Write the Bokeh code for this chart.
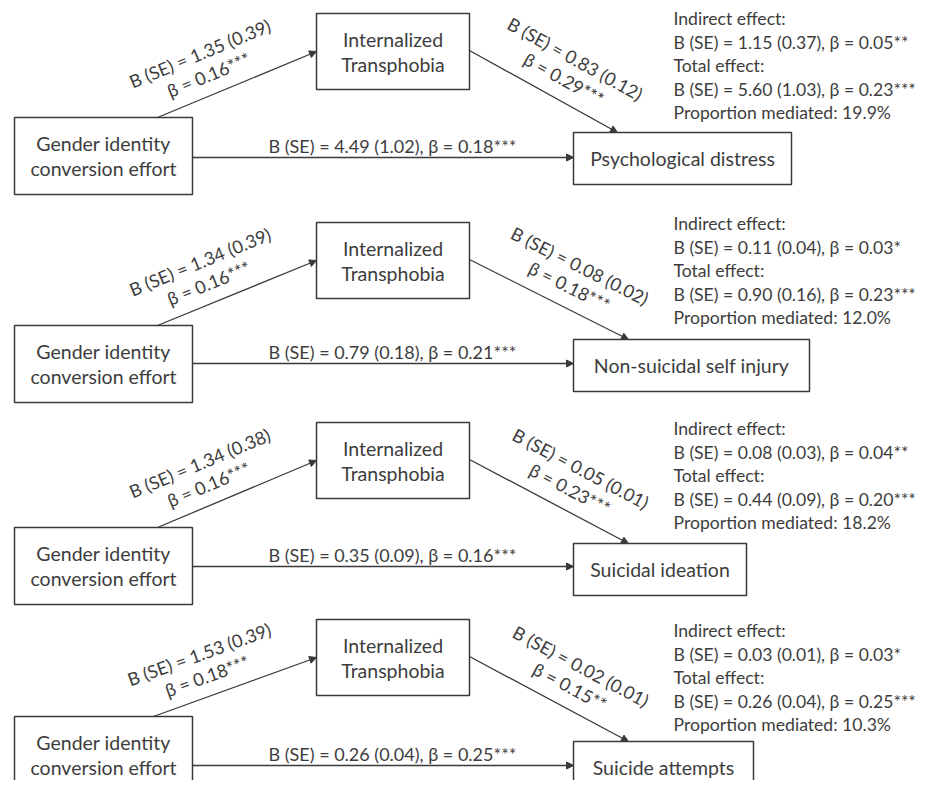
import math
from bokeh.plotting import figure
from bokeh.models import Range1d, ColumnDataSource, Arrow, NormalHead
from bokeh.core.properties import value
from bokeh.embed import file_html
from bokeh.resources import INLINE

# ---------------- data ----------------
predictor = ["Gender identity", "conversion effort"]
mediator = ["Internalized", "Transphobia"]
outcomes = ["Psychological distress", "Non-suicidal self injury",
            "Suicidal ideation", "Suicide attempts"]

a_B = [1.35, 1.34, 1.34, 1.53]
a_SE = [0.39, 0.39, 0.38, 0.39]
a_beta = [0.16, 0.16, 0.16, 0.18]
a_sig = ["***", "***", "***", "***"]

b_B = [0.83, 0.08, 0.05, 0.02]
b_SE = [0.12, 0.02, 0.01, 0.01]
b_beta = [0.29, 0.18, 0.23, 0.15]
b_sig = ["***", "***", "***", "**"]

c_B = [4.49, 0.79, 0.35, 0.26]
c_SE = [1.02, 0.18, 0.09, 0.04]
c_beta = [0.18, 0.21, 0.16, 0.25]
c_sig = ["***", "***", "***", "***"]

ind_B = [1.15, 0.11, 0.08, 0.03]
ind_SE = [0.37, 0.04, 0.03, 0.01]
ind_beta = [0.05, 0.03, 0.04, 0.03]
ind_sig = ["**", "*", "**", "*"]

tot_B = [5.60, 0.90, 0.44, 0.26]
tot_SE = [1.03, 0.16, 0.09, 0.04]
tot_beta = [0.23, 0.23, 0.20, 0.25]
tot_sig = ["***", "***", "***", "***"]

prop_mediated = [19.9, 12.0, 18.2, 10.3]

# ---------------- layout (pixel positions) ----------------
left_top = [117, 325, 527, 716]
med_top = [13, 222, 422, 619]
out_top = [132, 339, 543, 741]
out_right = [791, 809, 746, 753]
direct_y = [157, 363, 566, 765]
info_y = [18, 223, 428, 630]
b_end_x = [617, 628, 628, 628]
a_start_x = [157, 157, 157, 153]

LX0, LX1, LH = 14, 192, 77
MX0, MX1, MH = 316, 469, 76
OX0, OH = 573, 52
INFO_X = 673
LINE_SP = 23.5

FONT = "Lato"
FS_BOX = "19.5px"
FS = "18px"
FS_INFO = "17.6px"
TXT = "#3d3d3d"
LINE = "#3a3a3a"

W, H = 918, 780
p = figure(width=W, height=H, x_range=Range1d(0, W), y_range=Range1d(H, 0),
           output_backend="svg", toolbar_location=None,
           x_axis_type=None, y_axis_type=None, min_border=0)
p.grid.visible = False
p.outline_line_color = None
p.background_fill_color = "white"
p.border_fill_color = "white"

def fmt(B, SE):
    return f"B (SE) = {B:.2f} ({SE:.2f})"

# boxes
qd = dict(left=[], right=[], top=[], bottom=[])
for i in range(4):
    for (x0, x1, t, h) in [(LX0, LX1, left_top[i], LH), (MX0, MX1, med_top[i], MH),
                           (OX0, out_right[i], out_top[i], OH)]:
        qd["left"].append(x0); qd["right"].append(x1)
        qd["top"].append(t); qd["bottom"].append(t + h)
p.quad(source=ColumnDataSource(qd), left="left", right="right", top="top", bottom="bottom",
       fill_color="white", line_color=LINE, line_width=1.5)

# arrows
ad = dict(x0=[], y0=[], x1=[], y1=[])
for i in range(4):
    segs = [
        (a_start_x[i], left_top[i], MX0, med_top[i] + 38),
        (MX1, med_top[i] + 37, b_end_x[i], out_top[i]),
        (LX1, direct_y[i], OX0, direct_y[i]),
    ]
    for s in segs:
        ad["x0"].append(s[0]); ad["y0"].append(s[1]); ad["x1"].append(s[2]); ad["y1"].append(s[3])
p.add_layout(Arrow(end=NormalHead(size=7, fill_color=LINE, line_color=LINE, line_width=1),
                   x_start="x0", y_start="y0", x_end="x1", y_end="y1",
                   source=ColumnDataSource(ad), line_color=LINE, line_width=1.3))

# texts
box_td = dict(x=[], y=[], t=[])
td = dict(x=[], y=[], t=[], ang=[], align=[])
info_td = dict(x=[], y=[], t=[])
def add(x, y, t, ang=0.0, align="center"):
    td["x"].append(x); td["y"].append(y); td["t"].append(t); td["ang"].append(ang); td["align"].append(align)
def addbox(x, y, t):
    box_td["x"].append(x); box_td["y"].append(y); box_td["t"].append(t)

for i in range(4):
    cy = left_top[i] + LH / 2
    addbox((LX0 + LX1) / 2, cy - 12.5, predictor[0])
    addbox((LX0 + LX1) / 2, cy + 12.5, predictor[1])
    cy = med_top[i] + MH / 2
    addbox((MX0 + MX1) / 2, cy - 12.5, mediator[0])
    addbox((MX0 + MX1) / 2, cy + 12.5, mediator[1])
    addbox((OX0 + out_right[i]) / 2, out_top[i] + 26, outcomes[i])
    # direct path label
    add(268, direct_y[i] - 12, f"{fmt(c_B[i], c_SE[i])}, β = {c_beta[i]:.2f}{c_sig[i]}", 0.0, "left")
    # a path label
    x0, y0, x1, y1 = a_start_x[i], left_top[i], MX0, med_top[i] + 38
    L = math.hypot(x1 - x0, y1 - y0)
    ux, uy = (x1 - x0) / L, (y1 - y0) / L
    nx, ny = uy, -ux
    ang = math.atan2(-(y1 - y0), x1 - x0)
    along = 0.37 * L
    for off, t in [(43, fmt(a_B[i], a_SE[i])), (20, f"β = {a_beta[i]:.2f}{a_sig[i]}")]:
        add(x0 + ux * along + nx * off, y0 + uy * along + ny * off, t, ang)
    # b path label
    x0, y0, x1, y1 = MX1, med_top[i] + 37, b_end_x[i], out_top[i]
    L = math.hypot(x1 - x0, y1 - y0)
    ux, uy = (x1 - x0) / L, (y1 - y0) / L
    nx, ny = uy, -ux
    ang = math.atan2(-(y1 - y0), x1 - x0)
    along = 0.57 * L
    for off, t in [(44, fmt(b_B[i], b_SE[i])), (21, f"β = {b_beta[i]:.2f}{b_sig[i]}")]:
        add(x0 + ux * along + nx * off, y0 + uy * along + ny * off, t, ang)
    # info block
    lines = ["Indirect effect:",
             f"{fmt(ind_B[i], ind_SE[i])}, β = {ind_beta[i]:.2f}{ind_sig[i]}",
             "Total effect:",
             f"{fmt(tot_B[i], tot_SE[i])}, β = {tot_beta[i]:.2f}{tot_sig[i]}",
             f"Proportion mediated: {prop_mediated[i]:.1f}%"]
    for k, t in enumerate(lines):
        info_td["x"].append(INFO_X); info_td["y"].append(info_y[i] + k * LINE_SP); info_td["t"].append(t)

p.text(source=ColumnDataSource(box_td), x="x", y="y", text="t",
       text_align="center", text_baseline="middle",
       text_font=value(FONT), text_font_size=FS_BOX, text_color=TXT)
p.text(source=ColumnDataSource(td), x="x", y="y", text="t", angle="ang",
       text_align="align", text_baseline="middle",
       text_font=value(FONT), text_font_size=FS, text_color=TXT)
p.text(source=ColumnDataSource(info_td), x="x", y="y", text="t",
       text_align="left", text_baseline="middle",
       text_font=value(FONT), text_font_size=FS_INFO, text_color=TXT)

open("out.html", "w").write(file_html(p, INLINE))
